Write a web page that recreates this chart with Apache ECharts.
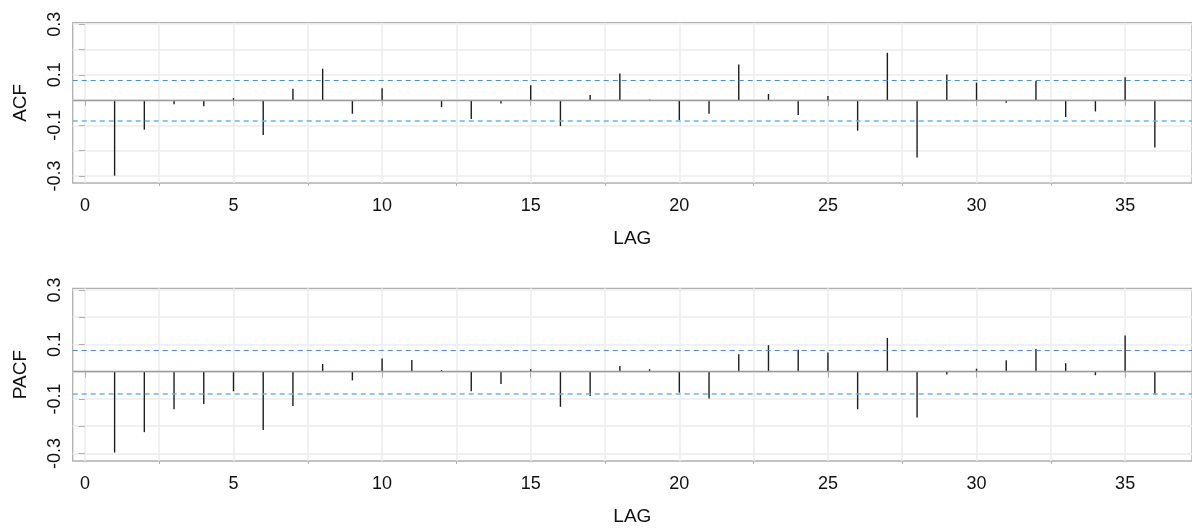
<!DOCTYPE html>
<html>
<head>
<meta charset="utf-8">
<script src="https://cdn.jsdelivr.net/npm/echarts@6/dist/echarts.min.js"></script>
<style>
  html, body { margin: 0; padding: 0; background: #fff; }
  #chart { width: 1192px; height: 529px; }
</style>
</head>
<body>
<div id="chart"></div>
<script>
// lags and sample correlations
const lags = [1, 2, 3, 4, 5, 6, 7, 8, 9, 10, 11, 12, 13, 14, 15, 16, 17, 18,
  19, 20, 21, 22, 23, 24, 25, 26, 27, 28, 29, 30, 31, 32, 33, 34, 35, 36];
const acf = [-0.299, -0.117, -0.017, -0.024, 0.008, -0.138, 0.045, 0.124, -0.054, 0.047,
  -0.004, -0.028, -0.075, -0.014, 0.059, -0.103, 0.020, 0.105, 0.002, -0.079,
  -0.054, 0.141, 0.024, -0.059, 0.016, -0.121, 0.187, -0.227, 0.101, 0.069,
  -0.011, 0.075, -0.067, -0.045, 0.090, -0.188];
const pacf = [-0.297, -0.222, -0.138, -0.119, -0.072, -0.214, -0.126, 0.028, -0.032, 0.048,
  0.043, 0.006, -0.072, -0.045, 0.009, -0.129, -0.089, 0.021, 0.009, -0.077,
  -0.099, 0.064, 0.097, 0.080, 0.070, -0.138, 0.124, -0.168, -0.010, 0.011,
  0.042, 0.083, 0.031, -0.013, 0.133, -0.084];
const bound = 0.077;

// tick labels
const lagTicks = [0, 5, 10, 15, 20, 25, 30, 35];
const lagMinor = [2.5, 7.5, 12.5, 17.5, 22.5, 27.5, 32.5, 37.5];
const yTicks = [-0.3, -0.2, -0.1, 0, 0.1, 0.2, 0.3];
const yLabels = [-0.3, -0.1, 0.1, 0.3];

const X_MIN = -0.41, X_MAX = 37.25;
const Y_MIN = -0.328, Y_MAX = 0.306;
const GRID_COLOR = '#ececec';
const FRAME_COLOR = '#b0b0b0';
const TEXT = { color: '#111', fontFamily: 'Liberation Sans, Arial, sans-serif' };

function mainX(gridIndex) {
  return {
    type: 'value', gridIndex, min: X_MIN, max: X_MAX,
    name: 'LAG', nameLocation: 'middle', nameGap: 46,
    nameTextStyle: Object.assign({ fontSize: 19 }, TEXT),
    axisLine: { show: false },
    axisTick: { length: 6, lineStyle: { color: FRAME_COLOR }, customValues: lagTicks },
    axisLabel: Object.assign({ fontSize: 18, margin: 14, customValues: lagTicks }, TEXT),
    splitLine: { show: true, lineStyle: { color: GRID_COLOR, width: 1.5 } }
  };
}

function minorX(gridIndex) {
  return {
    type: 'value', gridIndex, min: X_MIN, max: X_MAX, position: 'bottom',
    axisLine: { show: false },
    axisTick: { length: 3, lineStyle: { color: FRAME_COLOR }, customValues: lagMinor },
    axisLabel: { show: false },
    splitLine: { show: true, lineStyle: { color: GRID_COLOR, width: 1.5 } }
  };
}

function yAxisFor(gridIndex, title) {
  return {
    type: 'value', gridIndex, min: Y_MIN, max: Y_MAX,
    name: title, nameLocation: 'middle', nameGap: 42, nameRotate: 90,
    nameTextStyle: Object.assign({ fontSize: 19 }, TEXT),
    axisLine: { show: false },
    axisTick: { show: true, length: 6, lineStyle: { color: FRAME_COLOR }, customValues: yTicks },
    axisLabel: Object.assign({ fontSize: 18, rotate: 90, margin: 9, customValues: yLabels }, TEXT),
    splitLine: { show: true, lineStyle: { color: GRID_COLOR, width: 1.5 } }
  };
}

function spikes(values, xIndex, yIndex) {
  return {
    type: 'bar', xAxisIndex: xIndex, yAxisIndex: yIndex,
    data: lags.map((l, i) => [l, values[i]]),
    barWidth: 1.4,
    itemStyle: { color: '#1e1e1e' },
    silent: true,
    markLine: {
      silent: true, symbol: 'none', label: { show: false }, animation: false,
      data: [
        { yAxis: 0, lineStyle: { color: '#9a9a9a', width: 1.3, type: 'solid' } },
        { yAxis: bound, lineStyle: { color: '#4a8fd6', width: 1.2, type: [5, 4] } },
        { yAxis: -bound, lineStyle: { color: '#6cb2ee', width: 1.5, type: [5, 4] } }
      ]
    }
  };
}

const chart = echarts.init(document.getElementById('chart'), null, { renderer: 'canvas' });
chart.setOption({
  animation: false,
  backgroundColor: '#fff',
  grid: [
    { left: 72.7, top: 22.7, right: -2, height: 160.3, show: true, borderColor: FRAME_COLOR, borderWidth: 1.3, containLabel: false },
    { left: 72.7, top: 288.3, right: -2, height: 172.7, show: true, borderColor: FRAME_COLOR, borderWidth: 1.3, containLabel: false }
  ],
  xAxis: [mainX(0), minorX(0), mainX(1), minorX(1)],
  yAxis: [yAxisFor(0, 'ACF'), yAxisFor(1, 'PACF')],
  series: [spikes(acf, 0, 0), spikes(pacf, 2, 1)]
});
</script>
</body>
</html>
